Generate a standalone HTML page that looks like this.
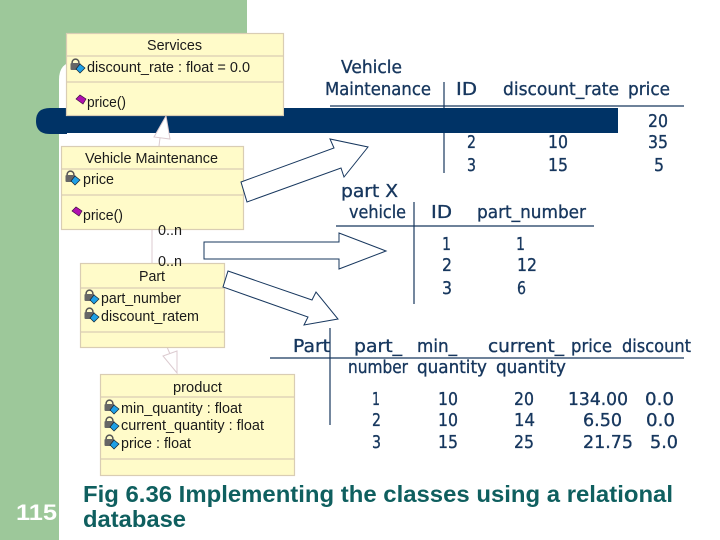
<!DOCTYPE html>
<html><head><meta charset="utf-8"><style>
html,body{margin:0;padding:0;background:#fff;width:720px;height:540px;overflow:hidden}
svg{display:block}
.t{font-family:"DejaVu Sans","Liberation Sans",sans-serif;font-size:18px;fill:#17375e;stroke:#17375e;stroke-width:.35}
.u{font-family:"Liberation Sans",sans-serif;font-size:14.500px;fill:#1a1a1a}
.c{font-family:"Liberation Sans",sans-serif;font-size:23px;font-weight:bold;fill:#0f5f5f}
.box{fill:#fffbc9;stroke:#d9cdb4;stroke-width:1.2}
.arr{fill:#fff;stroke:#17375e;stroke-width:1}
.ln{stroke:#17375e;stroke-width:1.2;fill:none}
.pk{stroke:#dccbd0;stroke-width:1;fill:#fff}
</style></head><body>
<svg width="720" height="540" viewBox="0 0 720 540" xmlns="http://www.w3.org/2000/svg">
<defs>
<g id="lock"><circle cx="5.5" cy="3.5" r="3.4" fill="none" stroke="#555" stroke-width="1.5"/><rect x="0.5" y="4" width="10" height="7" rx="1" fill="#666"/><polygon points="10,5 15,9 10,14 6,10" fill="#1ea0e6" stroke="#123" stroke-width=".7"/></g>
<polygon id="gem" points="0,4 4,0 10,4 7,9" fill="#b010b0" stroke="#401040" stroke-width=".7"/>
</defs>
<rect width="720" height="540" fill="#fff"/>
<path d="M0 0H247V62H75Q59 62 59 80V540H0Z" fill="#9dc89a"/>
<path d="M36 121Q36 108 50 108H618V133H67V134H50Q36 134 36 121Z" fill="#003366"/>

<line x1="152" y1="229" x2="152" y2="263" class="pk"/>
<polyline points="159,146 160,138" class="pk"/>
<polygon points="166,116 154,137 170,139" class="pk"/>
<line x1="167" y1="347" x2="170" y2="354" class="pk"/>
<polygon points="177,351 163,356 177,373" class="pk"/>

<rect x="66.500" y="33.500" width="217" height="82" class="box"/>
<line x1="66" y1="56" x2="283" y2="56" class="box"/><line x1="66" y1="82" x2="283" y2="82" class="box"/>
<rect x="61.500" y="146.500" width="182" height="83" class="box"/>
<line x1="61" y1="169" x2="243" y2="169" class="box"/><line x1="61" y1="195" x2="243" y2="195" class="box"/>
<rect x="80.500" y="263.500" width="144" height="84" class="box"/>
<line x1="80" y1="288" x2="224" y2="288" class="box"/><line x1="80" y1="332" x2="224" y2="332" class="box"/>
<rect x="100.500" y="374.500" width="194" height="101" class="box"/>
<line x1="100" y1="397" x2="294" y2="397" class="box"/><line x1="100" y1="459" x2="294" y2="459" class="box"/>

<text class="u" x="147" y="50" textLength="55" lengthAdjust="spacingAndGlyphs">Services</text>
<text class="u" x="87" y="72" textLength="163" lengthAdjust="spacingAndGlyphs">discount_rate : float = 0.0</text>
<text class="u" x="87" y="107" textLength="39" lengthAdjust="spacingAndGlyphs">price()</text>
<text class="u" x="85" y="163" textLength="133" lengthAdjust="spacingAndGlyphs">Vehicle Maintenance</text>
<text class="u" x="83" y="184" textLength="31" lengthAdjust="spacingAndGlyphs">price</text>
<text class="u" x="83" y="220" textLength="40" lengthAdjust="spacingAndGlyphs">price()</text>
<text class="u" x="158" y="235" textLength="24" lengthAdjust="spacingAndGlyphs">0..n</text>
<text class="u" x="158" y="266" textLength="24" lengthAdjust="spacingAndGlyphs">0..n</text>
<text class="u" x="139" y="281" textLength="26" lengthAdjust="spacingAndGlyphs">Part</text>
<text class="u" x="101" y="303" textLength="80" lengthAdjust="spacingAndGlyphs">part_number</text>
<text class="u" x="101" y="321" textLength="98" lengthAdjust="spacingAndGlyphs">discount_ratem</text>
<text class="u" x="173" y="392" textLength="49" lengthAdjust="spacingAndGlyphs">product</text>
<text class="u" x="121" y="413" textLength="121" lengthAdjust="spacingAndGlyphs">min_quantity : float</text>
<text class="u" x="121" y="430" textLength="143" lengthAdjust="spacingAndGlyphs">current_quantity : float</text>
<text class="u" x="121" y="448" textLength="70" lengthAdjust="spacingAndGlyphs">price : float</text>

<use href="#lock" x="70" y="59"/><use href="#gem" x="76" y="95"/>
<use href="#lock" x="65" y="171"/><use href="#gem" x="72" y="207"/>
<use href="#lock" x="84" y="290"/><use href="#lock" x="84" y="308"/>
<use href="#lock" x="104" y="400"/><use href="#lock" x="104" y="417"/><use href="#lock" x="104" y="435"/>

<polygon class="arr" points="241,182 334,148 330,139 368,147 344,177 341,168 247,202"/>
<polygon class="arr" points="204,242 339,242 339,233 386,251 339,269 339,259 204,259"/>
<polygon class="arr" points="228,271 312,300 316,292 338,319 304,325 308,317 223,287"/>

<line class="ln" x1="444" y1="82" x2="444" y2="173"/><line class="ln" x1="330" y1="106" x2="684" y2="106"/>
<line class="ln" x1="414" y1="202" x2="414" y2="304"/><line class="ln" x1="336" y1="226" x2="594" y2="226"/>
<line class="ln" x1="330" y1="328" x2="330" y2="425"/><line class="ln" x1="270" y1="358" x2="684" y2="358"/>
<rect x="284" y="108" width="334" height="25" fill="#003366"/>

<g>
<text class="t" x="341" y="73" textLength="61" lengthAdjust="spacingAndGlyphs">Vehicle</text>
<text class="t" x="325" y="95" textLength="106" lengthAdjust="spacingAndGlyphs">Maintenance</text>
<text class="t" x="456" y="95" textLength="21" lengthAdjust="spacingAndGlyphs">ID</text>
<text class="t" x="503" y="95" textLength="116" lengthAdjust="spacingAndGlyphs">discount_rate</text>
<text class="t" x="628" y="95" textLength="42" lengthAdjust="spacingAndGlyphs">price</text>
<text class="t" x="648" y="127" textLength="20" lengthAdjust="spacingAndGlyphs">20</text>
<text class="t" x="467" y="148" textLength="9" lengthAdjust="spacingAndGlyphs">2</text>
<text class="t" x="548" y="148" textLength="20" lengthAdjust="spacingAndGlyphs">10</text>
<text class="t" x="648" y="148" textLength="20" lengthAdjust="spacingAndGlyphs">35</text>
<text class="t" x="467" y="171" textLength="9" lengthAdjust="spacingAndGlyphs">3</text>
<text class="t" x="548" y="171" textLength="20" lengthAdjust="spacingAndGlyphs">15</text>
<text class="t" x="654" y="171" textLength="10" lengthAdjust="spacingAndGlyphs">5</text>
<text class="t" x="341" y="197" textLength="57" lengthAdjust="spacingAndGlyphs">part X</text>
<text class="t" x="349" y="218" textLength="57" lengthAdjust="spacingAndGlyphs">vehicle</text>
<text class="t" x="431" y="218" textLength="21" lengthAdjust="spacingAndGlyphs">ID</text>
<text class="t" x="477" y="218" textLength="109" lengthAdjust="spacingAndGlyphs">part_number</text>
<text class="t" x="442" y="250" textLength="9" lengthAdjust="spacingAndGlyphs">1</text>
<text class="t" x="516" y="250" textLength="9" lengthAdjust="spacingAndGlyphs">1</text>
<text class="t" x="442" y="271" textLength="10" lengthAdjust="spacingAndGlyphs">2</text>
<text class="t" x="517" y="271" textLength="20" lengthAdjust="spacingAndGlyphs">12</text>
<text class="t" x="442" y="294" textLength="10" lengthAdjust="spacingAndGlyphs">3</text>
<text class="t" x="517" y="294" textLength="9" lengthAdjust="spacingAndGlyphs">6</text>
<text class="t" x="293" y="352" textLength="37" lengthAdjust="spacingAndGlyphs">Part</text>
<text class="t" x="354" y="352" textLength="48" lengthAdjust="spacingAndGlyphs">part_</text>
<text class="t" x="417" y="352" textLength="40" lengthAdjust="spacingAndGlyphs">min_</text>
<text class="t" x="488" y="352" textLength="76" lengthAdjust="spacingAndGlyphs">current_</text>
<text class="t" x="571" y="352" textLength="41" lengthAdjust="spacingAndGlyphs">price</text>
<text class="t" x="622" y="352" textLength="69" lengthAdjust="spacingAndGlyphs">discount</text>
<text class="t" x="348" y="373" textLength="60" lengthAdjust="spacingAndGlyphs">number</text>
<text class="t" x="417" y="373" textLength="70" lengthAdjust="spacingAndGlyphs">quantity</text>
<text class="t" x="496" y="373" textLength="70" lengthAdjust="spacingAndGlyphs">quantity</text>
<text class="t" x="372" y="405" textLength="8" lengthAdjust="spacingAndGlyphs">1</text>
<text class="t" x="438" y="405" textLength="20" lengthAdjust="spacingAndGlyphs">10</text>
<text class="t" x="514" y="405" textLength="20" lengthAdjust="spacingAndGlyphs">20</text>
<text class="t" x="568" y="405" textLength="60" lengthAdjust="spacingAndGlyphs">134.00</text>
<text class="t" x="645" y="405" textLength="29" lengthAdjust="spacingAndGlyphs">0.0</text>
<text class="t" x="372" y="426" textLength="9" lengthAdjust="spacingAndGlyphs">2</text>
<text class="t" x="438" y="426" textLength="20" lengthAdjust="spacingAndGlyphs">10</text>
<text class="t" x="514" y="426" textLength="21" lengthAdjust="spacingAndGlyphs">14</text>
<text class="t" x="583" y="426" textLength="39" lengthAdjust="spacingAndGlyphs">6.50</text>
<text class="t" x="646" y="426" textLength="29" lengthAdjust="spacingAndGlyphs">0.0</text>
<text class="t" x="372" y="448" textLength="9" lengthAdjust="spacingAndGlyphs">3</text>
<text class="t" x="438" y="448" textLength="20" lengthAdjust="spacingAndGlyphs">15</text>
<text class="t" x="514" y="448" textLength="20" lengthAdjust="spacingAndGlyphs">25</text>
<text class="t" x="583" y="448" textLength="50" lengthAdjust="spacingAndGlyphs">21.75</text>
<text class="t" x="650" y="448" textLength="28" lengthAdjust="spacingAndGlyphs">5.0</text>
</g>

<text class="c" x="83" y="502" textLength="590" lengthAdjust="spacingAndGlyphs">Fig 6.36 Implementing the classes using a relational</text>
<text class="c" x="83" y="527" textLength="103" lengthAdjust="spacingAndGlyphs">database</text>
<text x="16" y="520" textLength="41" lengthAdjust="spacingAndGlyphs" style="font-family:'Liberation Sans',sans-serif;font-size:22px;font-weight:bold;fill:#fff">115</text>
</svg>
</body></html>
